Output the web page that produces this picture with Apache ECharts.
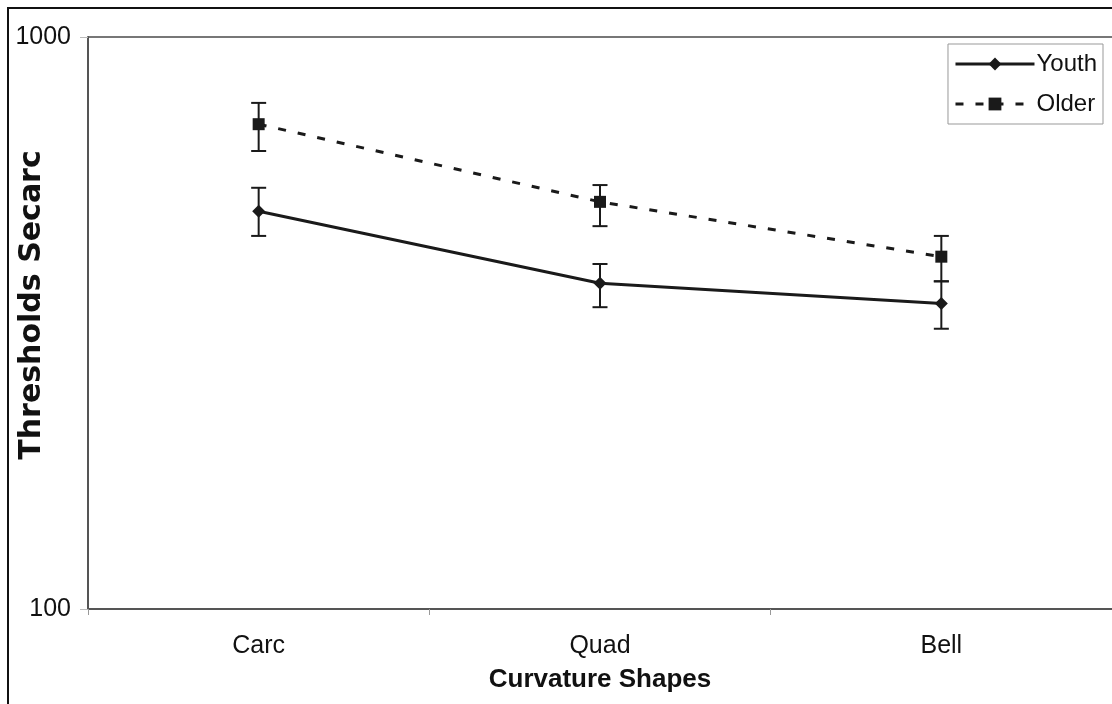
<!DOCTYPE html>
<html>
<head>
<meta charset="utf-8">
<script src="https://cdn.jsdelivr.net/npm/echarts@6/dist/echarts.min.js"></script>
<style>
  html, body { margin: 0; padding: 0; background: #fff; }
  #main { width: 1112px; height: 704px; }
</style>
</head>
<body>
<div id="main"></div>
<script>
// data
var categories = ['Carc', 'Quad', 'Bell'];
var youth = [496, 371, 342];
var youthLow = [449, 337, 309];
var youthHigh = [545, 401, 374];
var older = [704, 515, 413];
var olderLow = [632, 467, 374];
var olderHigh = [767, 551, 449];
var yTicks = [100, 1000];

var FONT = '"Liberation Sans", Arial, sans-serif';

// error bars drawn through the axes
function errorBars(name, low, high) {
    return {
        name: name + ' err',
        type: 'custom',
        silent: true,
        z: 1,
        data: categories.map(function (c, i) { return [i, low[i], high[i]]; }),
        renderItem: function (params, api) {
            var lo = api.coord([api.value(0), api.value(1)]);
            var hi = api.coord([api.value(0), api.value(2)]);
            var w = 7.5;
            var st = { stroke: '#1a1a1a', lineWidth: 2 };
            return {
                type: 'group',
                children: [
                    { type: 'line', shape: { x1: hi[0], y1: hi[1], x2: lo[0], y2: lo[1] }, style: st },
                    { type: 'line', shape: { x1: hi[0] - w, y1: hi[1], x2: hi[0] + w, y2: hi[1] }, style: st },
                    { type: 'line', shape: { x1: lo[0] - w, y1: lo[1], x2: lo[0] + w, y2: lo[1] }, style: st }
                ]
            };
        }
    };
}

var chart = echarts.init(document.getElementById('main'));
var option = {
    backgroundColor: '#fff',
    animation: false,
    textStyle: { fontFamily: FONT },
    graphic: [{
        type: 'rect',
        shape: { x: 8, y: 8, width: 1300, height: 900 },
        style: { fill: 'none', stroke: '#111', lineWidth: 2 },
        silent: true
    }],
    grid: { left: 88, top: 37, right: 0, bottom: 95, containLabel: false, outerBoundsMode: 'none' },
    legend: {
        orient: 'vertical',
        right: 9,
        top: 44,
        itemWidth: 79,
        itemHeight: 16,
        itemGap: 14,
        padding: [7, 6, 7, 6],
        borderColor: '#999',
        borderWidth: 1,
        textStyle: { fontFamily: FONT, fontSize: 24, lineHeight: 26, color: '#111', padding: [0, 0, 0, -3] },
        data: [
            { name: 'Youth', lineStyle: { width: 3 } },
            { name: 'Older', lineStyle: { width: 3 } }
        ]
    },
    xAxis: {
        type: 'category',
        data: categories,
        boundaryGap: true,
        name: 'Curvature Shapes',
        nameLocation: 'middle',
        nameGap: 58,
        nameMoveOverlap: false,
        nameTextStyle: { fontFamily: FONT, fontSize: 26, fontWeight: 'bold', color: '#111' },
        axisLine: { lineStyle: { color: '#555', width: 2 } },
        axisTick: { show: true, length: 6, lineStyle: { color: '#999' } },
        axisLabel: { fontFamily: FONT, fontSize: 25, color: '#111', margin: 25 }
    },
    yAxis: {
        type: 'log',
        logBase: 10,
        min: yTicks[0],
        max: yTicks[1],
        name: 'Thresholds Secarc',
        nameLocation: 'middle',
        nameGap: 41,
        nameMoveOverlap: false,
        nameTextStyle: {
            fontFamily: '"DejaVu Sans", sans-serif', fontSize: 30, fontWeight: 'bold', color: '#111',
            padding: [0, 0, 0, 36]
        },
        axisLine: { show: true, lineStyle: { color: '#555', width: 2 } },
        axisTick: { show: true, length: 8, lineStyle: { color: '#bbb' } },
        minorTick: { show: false },
        splitLine: { show: true, lineStyle: { color: '#777', width: 2 } },
        axisLabel: {
            fontFamily: FONT, fontSize: 25, color: '#111', margin: 17,
            formatter: function (v) { return String(v); }
        }
    },
    series: [
        errorBars('Youth', youthLow, youthHigh),
        errorBars('Older', olderLow, olderHigh),
        {
            name: 'Youth',
            type: 'line',
            data: youth,
            z: 3,
            symbol: 'diamond',
            symbolSize: 13,
            itemStyle: { color: '#1a1a1a' },
            lineStyle: { color: '#1a1a1a', width: 3 }
        },
        {
            name: 'Older',
            type: 'line',
            data: older,
            z: 3,
            symbol: 'rect',
            symbolSize: 12,
            itemStyle: { color: '#1a1a1a' },
            lineStyle: { color: '#1a1a1a', width: 3, type: [8, 12] }
        }
    ]
};
chart.setOption(option);
</script>
</body>
</html>
